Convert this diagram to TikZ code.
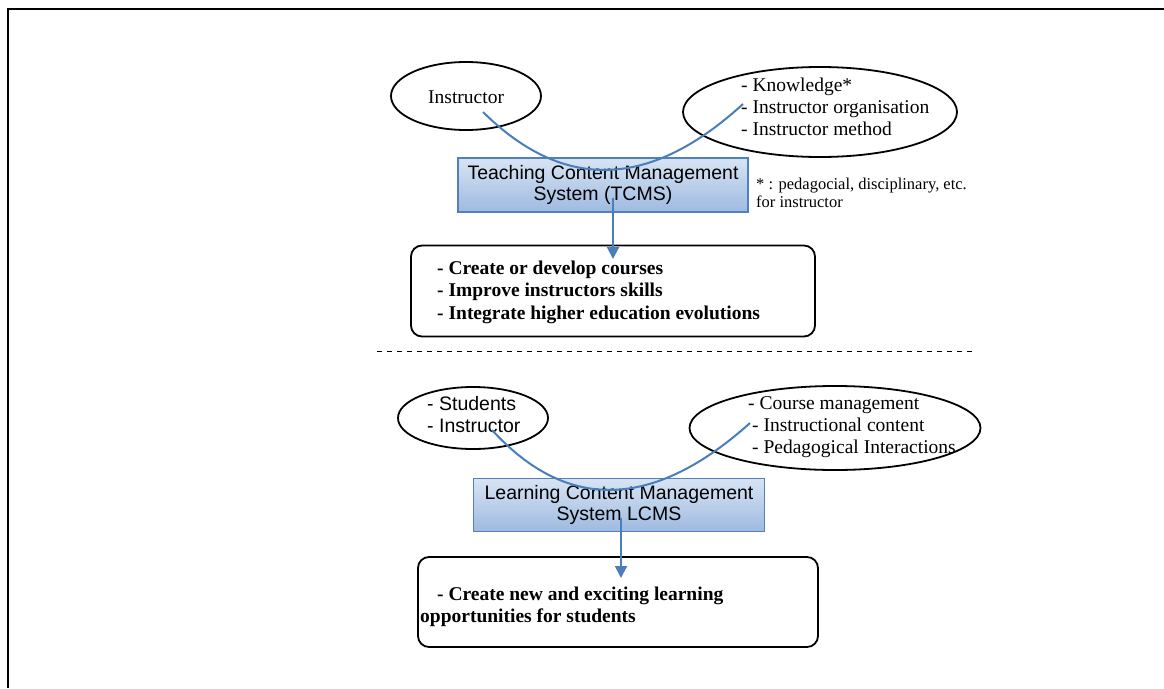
\documentclass[tikz,border=0pt]{standalone}
\usepackage{fontspec}
\setmainfont{Liberation Serif}
\setsansfont{Liberation Sans}
\usetikzlibrary{arrows.meta,shapes.geometric}
\definecolor{linkblue}{RGB}{74,126,187}
\definecolor{boxtop}{RGB}{216,228,244}
\definecolor{boxbot}{RGB}{158,186,224}
\definecolor{boxline}{RGB}{79,129,189}
\begin{document}
\begin{tikzpicture}[x=1pt,y=-1pt,
  oval/.style={draw=black, line width=1.8pt, ellipse, inner sep=0pt},
  sysbox/.style={draw=boxline, line width=1.5pt, top color=boxtop, bottom color=boxbot,
    inner sep=0pt, align=center, font=\sffamily\fontsize{19.5}{21}\selectfont},
  resbox/.style={draw=black, line width=1.8pt, rounded corners=11pt, inner sep=0pt},
  link/.style={draw=linkblue, line width=2pt},
  arr/.style={link, -{Triangle[width=12pt,length=12pt]}},
  txt/.style={inner sep=0pt, align=left, anchor=west, font=\fontsize{19.5}{22}\selectfont},
  stxt/.style={inner sep=0pt, align=left, anchor=west, font=\sffamily\fontsize{19.5}{22}\selectfont},
  btxt/.style={inner sep=0pt, align=left, anchor=west, font=\bfseries\fontsize{19.5}{22.5}\selectfont},
  ftxt/.style={inner sep=0pt, align=left, anchor=west, font=\fontsize{16.5}{18}\selectfont}]
\useasboundingbox (0,0) rectangle (1164,688);
% frame
\draw[line width=2pt] (8,688) -- (8,9) -- (1164,9);

% ---------- top part ----------
\node[oval, minimum width=150pt, minimum height=68pt] (instr) at (466,96) {};
\node[txt] (instrt) at (428,97) {Instructor};
\node[oval, minimum width=274pt, minimum height=90pt] (know) at (820,112) {};
\node[txt] (knowt) at (741,107) {- Knowledge*\\- Instructor organisation\\- Instructor method};

\node[sysbox, minimum width=290pt, minimum height=54pt] (tcms) at (603,185)
  {Teaching Content Management\\System (TCMS)};
\node[ftxt] (foot) at (756,193) {* : pedagocial, disciplinary, etc.\\for instructor};

\node[resbox, minimum width=404pt, minimum height=91pt] (res1) at (613,291) {};
\node[btxt] (res1t) at (437,292) {- Create or develop courses\\- Improve instructors skills\\- Integrate higher education evolutions};

\coordinate (c1a) at (483,112);
\coordinate (c1b) at (743,104);
\draw[link] (c1a) .. controls (564,192) and (650,189) .. (c1b);
\coordinate (a1s) at (613,198);
\coordinate (a1e) at (613,259);
\draw[arr] (a1s) -- (a1e);

% separator
\coordinate (sepL) at (377,351);
\coordinate (sepR) at (973,351);
\draw[line width=1pt, dash pattern=on 5pt off 5pt] (sepL) -- (sepR);

% ---------- bottom part ----------
\node[oval, minimum width=150pt, minimum height=62pt] (stud) at (473,418) {};
\node[stxt] (studt) at (427,415) {- Students\\- Instructor};
\node[oval, minimum width=291pt, minimum height=84pt] (course) at (835,428) {};
\node[txt] (courset) at (752,427) {\hspace*{-4pt}- Course management\\- Instructional content\\- Pedagogical Interactions};

\node[sysbox, minimum width=291pt, minimum height=53pt] (lcms) at (619,505)
  {Learning Content Management\\System LCMS};

\node[resbox, minimum width=400pt, minimum height=90pt] (res2) at (618,602) {};
\node[btxt] (res2t) at (420,607) {\hspace*{17pt}- Create new and exciting learning\\opportunities for students};

\coordinate (c2a) at (492,430);
\coordinate (c2b) at (750,423);
\draw[link] (c2a) .. controls (567,512) and (653,510) .. (c2b);
\coordinate (a2s) at (621,518);
\coordinate (a2e) at (621,578);
\draw[arr] (a2s) -- (a2e);
\end{tikzpicture}
\end{document}
